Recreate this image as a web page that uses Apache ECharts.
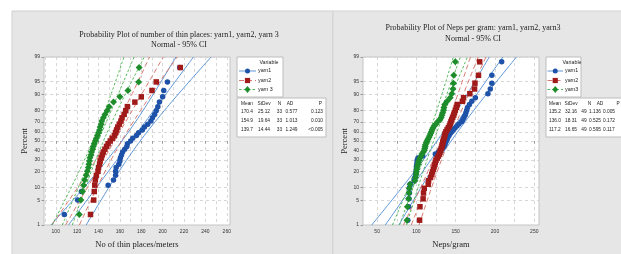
<!DOCTYPE html>
<head>
<meta charset="utf-8"/>
<style>
  html, body { margin: 0; height: 100%; background: #fff; }
  #main { width: 621px; height: 254px; }
</style>
<script src="https://cdn.jsdelivr.net/npm/echarts@6/dist/echarts.min.js"></script>
</head>
<body>
<div id="main"></div>
<script type="text/javascript">
// left plot: number of thin places (sorted values)
var thinNames = ['yarn1', 'yarn2', 'yarn 3'];
var thinYarn1 = [108, 120.5, 124, 149, 154, 156, 156, 156.5, 159, 160, 160.5, 161.5, 162.5, 164.5, 166.5, 167, 170, 172, 175.5, 177.5, 181, 183, 186, 189, 190.5, 192.5, 194, 195.5, 197, 200, 201, 204.5, 216];
var thinYarn2 = [132.5, 135.5, 136, 136.5, 137, 138, 139.5, 140, 141, 141.5, 142.5, 143.5, 144.5, 146, 147.5, 149, 151, 153, 155, 156, 157, 158, 159.5, 161, 162, 164, 165.5, 167, 174, 180, 190, 194, 216.5];
var thinYarn3 = [122, 123.5, 125, 126, 127, 128.5, 129.5, 130.5, 131, 131.5, 132, 133, 133.5, 134.5, 135, 136, 137, 138, 139, 140, 141, 141.5, 142.5, 143, 144.5, 146, 148, 150, 154, 160, 167.5, 177.5, 178];
var thinMean = [170.4, 154.9, 139.7];
var thinStDev = [25.12, 19.64, 14.44];
var thinN = [33, 33, 33];
var thinAD = ['0.577', '1.013', '1.249'];
var thinP = ['0.123', '0.010', '<0.005'];

// right plot: neps per gram
var nepsNames = ['yarn1', 'yarn2', 'yarn3'];
var nepsYarn1 = [89, 90, 90.5, 91, 91, 92, 97, 98, 99, 99.5, 100, 100, 100.5, 101, 101, 102, 108, 124, 128, 130, 133, 135, 136, 137, 138, 139, 140, 141.5, 143, 145, 147, 149, 151.5, 154, 157.5, 159, 160.5, 162, 163, 164, 165, 167.5, 170.5, 175, 191, 194, 196, 196, 208.5];
var nepsYarn2 = [104, 104.5, 108.5, 109, 110, 115, 115.5, 118, 119.5, 120.5, 121.5, 122.5, 123.5, 124, 125, 126.5, 128, 129, 130, 131, 131.5, 132.5, 133, 133.5, 134, 134.5, 135.5, 136, 136.5, 137.5, 139, 140.5, 142, 143, 144, 145, 146, 147.5, 148.5, 149.5, 151, 152, 158.5, 160, 168, 174, 174.5, 179, 180.5];
var nepsYarn3 = [88, 88.5, 90, 90.5, 91, 92, 98, 99, 99.5, 100, 100.5, 101, 102, 102.5, 103.5, 104.5, 106, 107, 108.5, 110, 110.5, 111, 111.5, 112.5, 113.5, 114.5, 116, 117, 118, 119, 120, 121, 122.5, 125, 127, 130, 131.5, 132.5, 133.5, 134.5, 135, 136, 139, 143, 145, 146.5, 147, 147.5, 149.5];
var nepsMean = [135.2, 136.0, 117.2];
var nepsStDev = [32.16, 18.31, 16.65];
var nepsN = [49, 49, 49];
var nepsAD = ['1.136', '0.525', '0.595'];
var nepsP = ['0.005', '0.172', '0.117'];

// tick labels
var pctTicks = [1, 5, 10, 20, 30, 40, 50, 60, 70, 80, 90, 95, 99];
var thinTicks = [100, 120, 140, 160, 180, 200, 220, 240, 260];
var thinGrid = [90, 100, 110, 120, 130, 140, 150, 160, 170, 180, 190, 200, 210, 220, 230, 240, 250, 260];
var nepsTicks = [50, 100, 150, 200, 250];
var nepsGrid = [50, 75, 100, 125, 150, 175, 200, 225, 250];

// inverse normal cdf (Acklam)
function normInv(p) {
  var a = [-3.969683028665376e+01, 2.209460984245205e+02, -2.759285104469687e+02, 1.383577518672690e+02, -3.066479806614716e+01, 2.506628277459239e+00];
  var b = [-5.447609879822406e+01, 1.615858368580409e+02, -1.556989798598866e+02, 6.680131188771972e+01, -1.328068155288572e+01];
  var c = [-7.784894002430293e-03, -3.223964580411365e-01, -2.400758277161838e+00, -2.549671348340204e+00, 4.374664141464968e+00, 2.938163982698783e+00];
  var d = [7.784695709041462e-03, 3.224671290700398e-01, 2.445134137142996e+00, 3.754408661907416e+00];
  var q, r;
  if (p < 0.02425) {
    q = Math.sqrt(-2 * Math.log(p));
    return (((((c[0]*q+c[1])*q+c[2])*q+c[3])*q+c[4])*q+c[5]) / ((((d[0]*q+d[1])*q+d[2])*q+d[3])*q+1);
  }
  if (p > 1 - 0.02425) {
    q = Math.sqrt(-2 * Math.log(1 - p));
    return -(((((c[0]*q+c[1])*q+c[2])*q+c[3])*q+c[4])*q+c[5]) / ((((d[0]*q+d[1])*q+d[2])*q+d[3])*q+1);
  }
  q = p - 0.5; r = q * q;
  return (((((a[0]*r+a[1])*r+a[2])*r+a[3])*r+a[4])*r+a[5])*q / (((((b[0]*r+b[1])*r+b[2])*r+b[3])*r+b[4])*r+1);
}

var zTicks = pctTicks.map(function (p) { return normInv(p / 100); });
var zMin = zTicks[0], zMax = zTicks[zTicks.length - 1];

var styles = [
  { pt: '#1d52a8', line: '#5e97d8', symbol: 'circle', size: 5.5, dash: 'solid' },
  { pt: '#a01a1a', line: '#d97870', symbol: 'rect', size: 5.5, dash: [5, 3] },
  { pt: '#1d8c2b', line: '#52b857', symbol: 'diamond', size: 7, dash: [2.5, 2] }
];

// median rank plotting positions
function probPoints(vals) {
  var n = vals.length;
  return vals.map(function (v, i) { return [v, normInv((i + 1 - 0.3) / (n + 0.4))]; });
}
// fitted line and 95% CI for percentiles
function fitLine(m, s, n, side) {
  var out = [];
  for (var k = 0; k <= 60; k++) {
    var z = zMin + (zMax - zMin) * k / 60;
    var half = 1.96 * s * Math.sqrt(1 / n + z * z / (2 * n));
    out.push([m + s * z + side * half, z]);
  }
  return out;
}

var series = [];
function addPanel(idx, sets, means, sds, ns) {
  for (var k = 0; k < 3; k++) {
    [0, -1, 1].forEach(function (side) {
      series.push({
        type: 'line', xAxisIndex: idx, yAxisIndex: idx, silent: true,
        showSymbol: false, data: fitLine(means[k], sds[k], ns[k], side),
        lineStyle: { color: styles[k].line, width: 1, type: styles[k].dash },
        z: 2
      });
    });
  }
  for (var k = 0; k < 3; k++) {
    series.push({
      type: 'scatter', xAxisIndex: idx, yAxisIndex: idx, silent: true,
      symbol: styles[k].symbol, symbolSize: styles[k].size,
      itemStyle: { color: styles[k].pt, opacity: 1 },
      data: probPoints(sets[k]), z: 3
    });
  }
}
addPanel(0, [thinYarn1, thinYarn2, thinYarn3], thinMean, thinStDev, thinN);
addPanel(1, [nepsYarn1, nepsYarn2, nepsYarn3], nepsMean, nepsStDev, nepsN);

var serif = 'Liberation Serif';
var sans = 'Liberation Sans';

function xAxisCfg(idx, min, max, ticks, gridVals, name) {
  return {
    gridIndex: idx, type: 'value', min: min, max: max,
    name: name, nameLocation: 'middle', nameGap: 15,
    nameTextStyle: { fontFamily: serif, fontSize: 8.5, color: '#222' },
    axisLine: { show: false },
    axisTick: { show: true, length: 2.5, customValues: gridVals, lineStyle: { color: '#999' } },
    axisLabel: { customValues: ticks, fontFamily: sans, fontSize: 5, color: '#333', margin: 4 },
    splitLine: { show: true, lineStyle: { color: '#d6d6d6', type: [3, 3], width: 1 } }
  };
}
function yAxisCfg(idx, gap) {
  return {
    gridIndex: idx, type: 'value', min: zMin, max: zMax,
    name: 'Percent', nameLocation: 'middle', nameGap: gap,
    nameTextStyle: { fontFamily: serif, fontSize: 8.5, color: '#222' },
    axisLine: { show: false },
    axisTick: { show: true, length: 2.5, customValues: zTicks, lineStyle: { color: '#999' } },
    axisLabel: {
      customValues: zTicks, fontFamily: sans, fontSize: 5, color: '#333', margin: 4,
      formatter: function (v) {
        for (var i = 0; i < zTicks.length; i++) if (Math.abs(zTicks[i] - v) < 1e-6) return pctTicks[i];
        return '';
      }
    },
    splitLine: { show: true, lineStyle: { color: '#d6d6d6', type: [3, 3], width: 1 } }
  };
}

// legend and stats boxes
var txt = function (t, x, y, align, size) {
  return { type: 'text', z: 100, style: { text: t, x: x, y: y, fill: '#222', align: align || 'left', verticalAlign: 'middle', font: (size || 4.8) + 'px "' + sans + '"' } };
};
function legendBox(x0, w, names, cfg) {
  var els = [{ type: 'rect', z: 99, shape: { x: x0, y: 57, width: w, height: 40 }, style: { fill: '#fff', stroke: '#bdbdbd', lineWidth: 1 } }];
  els.push(txt('Variable', cfg.head, 62.5, 'center', 5.3));
  var rowsY = [71, 80.5, 89.5];
  for (var k = 0; k < 3; k++) {
    var y = rowsY[k], cx = (cfg.l1 + cfg.l2) / 2, st = styles[k];
    els.push({ type: 'line', z: 100, shape: { x1: cfg.l1, y1: y, x2: cfg.l2, y2: y },
      style: { stroke: st.line, lineWidth: 1, lineDash: st.dash === 'solid' ? null : st.dash } });
    if (st.symbol === 'circle') els.push({ type: 'circle', z: 101, shape: { cx: cx, cy: y, r: 2.5 }, style: { fill: st.pt } });
    else if (st.symbol === 'rect') els.push({ type: 'rect', z: 101, shape: { x: cx - 2.6, y: y - 2.6, width: 5.2, height: 5.2 }, style: { fill: st.pt } });
    else els.push({ type: 'polygon', z: 101, shape: { points: [[cx, y - 3.4], [cx + 2.9, y], [cx, y + 3.4], [cx - 2.9, y]] }, style: { fill: st.pt } });
    els.push(txt(names[k], cfg.l2 + 2, y, 'left', 5.3));
  }
  return els;
}
function statsBox(x0, w, means, sds, ns, ads, ps, col) {
  var els = [{ type: 'rect', z: 99, shape: { x: x0, y: 98, width: w, height: 39 }, style: { fill: '#fff', stroke: '#bdbdbd', lineWidth: 1 } }];
  els.push(txt('Mean', col.mean, 103.5, 'left'));
  els.push(txt('StDev', col.sd, 103.5, 'center'));
  els.push(txt('N', col.nHead, 103.5, 'center'));
  els.push(txt('AD', col.adHead, 103.5, 'center'));
  els.push(txt('P', col.pHead, 103.5, col.pHeadAlign));
  var rowsY = [112, 121, 130];
  for (var k = 0; k < 3; k++) {
    els.push(txt(means[k].toFixed(1), col.mean, rowsY[k], 'left'));
    els.push(txt(sds[k].toFixed(2), col.sd, rowsY[k], 'center'));
    els.push(txt(String(ns[k]), col.n, rowsY[k], 'center'));
    els.push(txt(ads[k], col.ad, rowsY[k], 'center'));
    els.push(txt(ps[k], col.p, rowsY[k], col.pAlign));
  }
  return els;
}

var graphics = [
  { type: 'rect', z: -10, shape: { x: 12, y: 11, width: 321, height: 260 }, style: { fill: '#e6e6e6', stroke: '#cfcfcf', lineWidth: 1 } },
  { type: 'rect', z: -10, shape: { x: 333, y: 11, width: 300, height: 260 }, style: { fill: '#e6e6e6', stroke: '#d2d2d2', lineWidth: 1 } }
];
graphics = graphics
  .concat(legendBox(237, 46, thinNames, { head: 269, l1: 239, l2: 256 }))
  .concat(statsBox(237, 89, thinMean, thinStDev, thinN, thinAD, thinP,
    { mean: 241, sd: 264, nHead: 279.5, n: 279.5, adHead: 290, ad: 291.5, pHead: 322, pHeadAlign: 'right', p: 323, pAlign: 'right' }))
  .concat(legendBox(546, 35, nepsNames, { head: 572, l1: 547.5, l2: 563 }))
  .concat(statsBox(546, 100, nepsMean, nepsStDev, nepsN, nepsAD, nepsP,
    { mean: 549, sd: 571, nHead: 589.5, n: 584, adHead: 600, ad: 595, pHead: 618, pHeadAlign: 'center', p: 603, pAlign: 'left' }));

var titleStyle = { fontFamily: serif, fontSize: 8, fontWeight: 'normal', color: '#222' };
var option = {
  animation: false,
  backgroundColor: '#fff',
  title: [
    { text: 'Probability Plot of number of thin places: yarn1, yarn2, yarn 3', subtext: 'Normal - 95% CI',
      left: 174, top: 26, textAlign: 'center', itemGap: 2, textStyle: titleStyle, subtextStyle: titleStyle },
    { text: 'Probability Plot of Neps per gram: yarn1, yarn2, yarn3', subtext: 'Normal - 95% CI',
      left: 468, top: 19, textAlign: 'center', itemGap: 3, textStyle: titleStyle, subtextStyle: titleStyle }
  ],
  grid: [
    { left: 44, top: 57, width: 186, height: 169, show: true, backgroundColor: '#fff', borderColor: '#c4c4c4', borderWidth: 1 },
    { left: 363, top: 57, width: 176, height: 169, show: true, backgroundColor: '#fff', borderColor: '#c4c4c4', borderWidth: 1 }
  ],
  xAxis: [
    xAxisCfg(0, 89, 263, thinTicks, thinGrid, 'No of thin places/meters'),
    xAxisCfg(1, 32, 256, nepsTicks, nepsGrid, 'Neps/gram')
  ],
  yAxis: [yAxisCfg(0, 15), yAxisCfg(1, 12)],
  graphic: graphics,
  series: series
};

var myChart = echarts.init(document.getElementById('main'));
myChart.setOption(option);
</script>
</body>
